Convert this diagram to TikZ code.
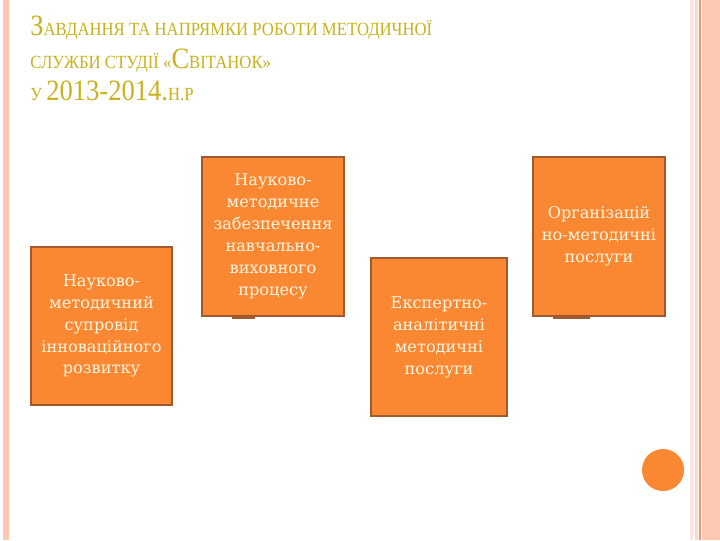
\documentclass[tikz,border=0pt]{standalone}
\usepackage{fontspec}
\setmainfont{Liberation Serif}
\newfontfamily\boxfont{DejaVu Serif}
\newfontfamily\titlefont[FakeStretch=0.9]{Liberation Serif}
\usepackage{xcolor}
\definecolor{boxorange}{RGB}{250,135,50}
\definecolor{boxedge}{RGB}{160,90,45}
\definecolor{titlegold}{RGB}{200,178,30}
\definecolor{stripe}{RGB}{252,200,178}
\definecolor{stripedark}{RGB}{232,150,120}
\definecolor{boxtext}{RGB}{255,246,225}
\newcommand{\ttlbig}{\fontsize{21}{24}\selectfont}
\newcommand{\ttlsmall}{\fontsize{13.2}{24}\selectfont}

\begin{document}
\begin{tikzpicture}[x=0.025cm,y=-0.025cm,
  taskbox/.style={draw=boxedge,line width=1.2pt,fill=boxorange,text=boxtext,
    align=center,font=\boxfont\fontsize{11.5}{15.6}\selectfont,inner sep=0pt},
  title/.style={text=titlegold,font=\titlefont,anchor=base west,inner sep=0pt}]
% page and frame stripes
\fill[white] (0,0) rectangle (720,540);
\fill[stripe] (3,0) rectangle (9,540);
\fill[stripe!50] (690,0) rectangle (693,540);
\fill[stripe!70] (695,0) rectangle (698,540);
\fill[stripedark] (699,0) rectangle (701,540);
\fill[stripe] (702,0) rectangle (720,540);

% heading
\node[title] (t1) at (30,35) {\ttlbig З\ttlsmall АВДАННЯ ТА НАПРЯМКИ РОБОТИ МЕТОДИЧНОЇ};
\node[title] (t2) at (30,68) {\ttlsmall СЛУЖБИ СТУДІЇ «\ttlbig С\ttlsmall ВІТАНОК»};
\node[title] (t3) at (30,100) {\ttlsmall У \ttlbig 2013-2014.\ttlsmall Н.Р};

% directions of work
\node[taskbox,minimum width=141*0.025cm,minimum height=158*0.025cm] (sup) at (101.5,326)
  {Науково-\\методичний\\супровід\\інноваційного\\розвитку};
\node[taskbox,minimum width=142*0.025cm,minimum height=159*0.025cm] (zab) at (273,236.5)
  {Науково-\\методичне\\забезпечення\\навчально-\\виховного\\процесу};
\node[taskbox,minimum width=136*0.025cm,minimum height=158*0.025cm] (eksp) at (439,337)
  {Експертно-\\аналітичні\\методичні\\послуги};
\node[taskbox,minimum width=132*0.025cm,minimum height=159*0.025cm] (org) at (599,236.5)
  {Організацій\\но-методичні\\послуги};

% small tabs under the boxes
\fill[boxedge] (232,316) rectangle (255,319);
\fill[boxedge] (553,316) rectangle (590,319);

% dot
\fill[boxorange] (663,470) circle (21);
\end{tikzpicture}
\end{document}
